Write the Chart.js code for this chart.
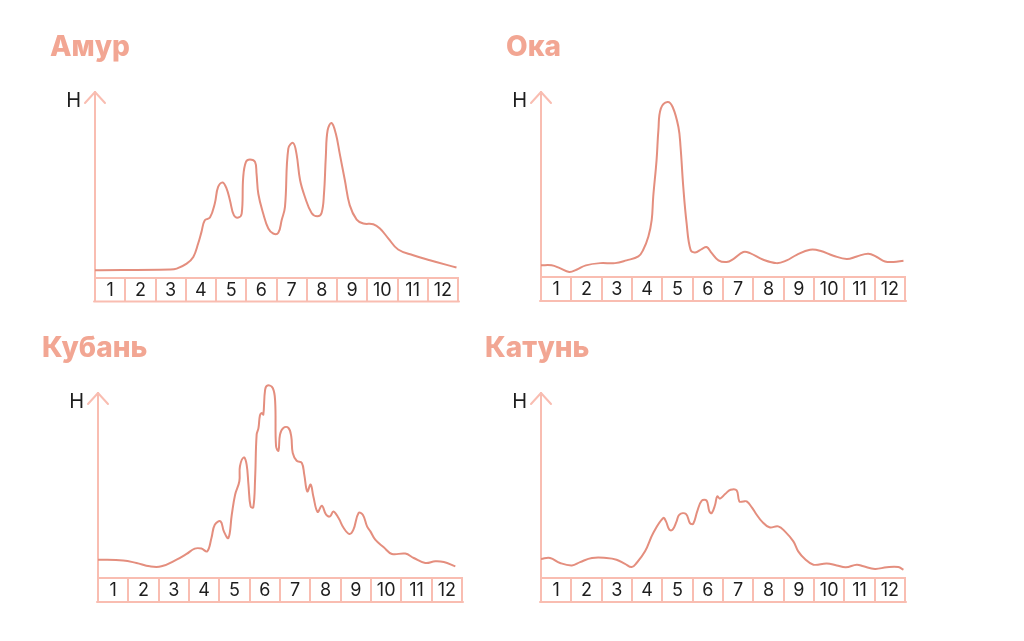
<!DOCTYPE html>
<html>
<head>
<meta charset="utf-8">
<script src="https://cdn.jsdelivr.net/npm/chart.js@4.4.0/dist/chart.umd.min.js"></script>
<style>
  html, body { margin: 0; padding: 0; background: #fff; }
  #wrap { position: relative; width: 1024px; height: 641px; }
  canvas { position: absolute; left: 0; top: 0; }
</style>
</head>
<body>
<div id="wrap">
  <canvas id="c0" width="1024" height="641"></canvas>
  <canvas id="c1" width="1024" height="641"></canvas>
  <canvas id="c2" width="1024" height="641"></canvas>
  <canvas id="c3" width="1024" height="641"></canvas>
</div>
<script>
  // месяцы под графиками
  const months = ['1', '2', '3', '4', '5', '6', '7', '8', '9', '10', '11', '12'];

  // Амур
  const amurMonth = [0, 2.48, 2.7, 3.03, 3.25, 3.41, 3.52, 3.63, 3.8, 3.96, 4.07, 4.22, 4.35, 4.46, 4.59,
    4.74, 4.85, 4.9, 4.99, 5.12, 5.29, 5.34, 5.4, 5.56, 5.73, 5.89, 6.06, 6.17, 6.28, 6.39, 6.55, 6.66,
    6.78, 6.94, 7.16, 7.35, 7.49, 7.57, 7.63, 7.69, 7.82, 7.96, 8.09, 8.26, 8.42, 8.65, 8.87, 9.2, 9.42,
    9.7, 10.02, 10.52, 11.07, 11.95];
  const amurLevel = [3.9, 4.3, 4.8, 7.5, 11.1, 18.3, 24.6, 30.9, 32.3, 39.9, 48.8, 51.2, 47.9, 41.7, 33.6,
    32.3, 34.5, 54.2, 62.3, 63.6, 62.3, 56, 45, 34.5, 26.4, 23.7, 24.1, 30.9, 38.1, 69.5, 72.5, 66.8,
    52.4, 43.4, 34.8, 33, 34.8, 45.2, 65, 79.4, 83.3, 77.6, 66.8, 52.4, 39, 31.2, 29.1, 28.7, 26.4,
    21, 15.1, 12, 9.3, 5.4];

  // Ока
  const okaMonth = [0, 0.35, 0.62, 0.93, 1.17, 1.48, 1.95, 2.44, 2.82, 3.21, 3.37, 3.54, 3.65, 3.7, 3.81,
    3.87, 3.95, 4.17, 4.34, 4.53, 4.6, 4.69, 4.8, 4.93, 5.08, 5.3, 5.46, 5.63, 5.85, 6.12, 6.34, 6.67,
    6.89, 7.33, 7.77, 8.1, 8.43, 8.87, 9.2, 9.64, 10.08, 10.41, 10.79, 11.07, 11.34, 11.62, 11.95];
  const okaLevel = [6.3, 6.3, 4.8, 2.7, 3.9, 6.3, 7.5, 7.5, 9, 11.1, 14.7, 21.9, 30.9, 43.4, 63.2,
    79.4, 91, 94.6, 91.9, 81.1, 70.4, 48.8, 29.1, 14.7, 13.3, 15.1, 16.2, 12.9, 9, 8.1, 9.7, 13.5,
    12.9, 9.3, 7.5, 9, 12, 14.7, 14.2, 11.5, 9.7, 11.1, 12.6, 10.8, 8.4, 8.1, 8.8];

  // Кубань
  const kubanMonth = [0, 0.83, 1.27, 1.71, 2.09, 2.59, 2.92, 3.19, 3.41, 3.6, 3.74, 3.85, 4.04, 4.15, 4.3,
    4.41, 4.52, 4.66, 4.68, 4.81, 4.9, 4.96, 5.03, 5.12, 5.18, 5.23, 5.29, 5.34, 5.4, 5.45, 5.51, 5.59,
    5.76, 5.84, 5.87, 5.95, 6.0, 6.11, 6.28, 6.37, 6.42, 6.55, 6.72, 6.8, 6.9, 7.01, 7.1, 7.24, 7.38,
    7.52, 7.65, 7.76, 7.93, 8.1, 8.29, 8.42, 8.59, 8.73, 8.87, 8.98, 9.14, 9.42, 9.69, 10.13, 10.41,
    10.79, 11.12, 11.4, 11.78];
  const kubanLevel = [9.9, 9.5, 8.1, 6.3, 6.3, 9.9, 13, 15.9, 15.9, 14.4, 21.6, 28.8, 30.6, 25.2, 21.6,
    34.2, 45, 52.3, 60.4, 65.2, 61.3, 50.5, 38.7, 38.2, 54.1, 77.5, 81, 88, 89.2, 88.3, 101.8, 104.1,
    102.7, 95.5, 71.2, 68.8, 77.5, 81.1, 81.1, 76.6, 67.6, 63.4, 62.2, 55.9, 46.8, 50.5, 44.1, 35.7, 39.1,
    34.2, 33.3, 36, 32.4, 27, 23.8, 26.1, 35.1, 34.2, 27.9, 25.2, 20.7, 16.6, 13, 13.2, 10.8,
    8.1, 9, 8.6, 6.3];

  // Катунь
  const katunMonth = [0, 0.3, 0.63, 1.02, 1.29, 1.68, 2.16, 2.49, 2.77, 2.99, 3.15, 3.43, 3.7, 4.03, 4.12,
    4.23, 4.34, 4.47, 4.56, 4.78, 4.91, 5.02, 5.15, 5.3, 5.46, 5.55, 5.63, 5.74, 5.81, 5.9, 6.07, 6.25,
    6.45, 6.54, 6.67, 6.78, 6.95, 7.11, 7.28, 7.53, 7.82, 8.04, 8.32, 8.48, 8.7, 8.98, 9.42, 9.75,
    10.05, 10.41, 10.63, 11.01, 11.4, 11.78, 11.95];
  const katunLevel = [10.3, 10.8, 8.1, 6.8, 8.6, 10.8, 10.8, 9.9, 7.6, 5.9, 8.1, 14.4, 24.3, 32.4, 30.6,
    26.1, 26.1, 30.6, 34.2, 34.6, 29.7, 29.4, 36, 41.8, 41.8, 36, 35.1, 39.6, 44.1, 42.9, 45.4, 47.7,
    47.4, 41.4, 41.4, 41.4, 38.2, 34.2, 30.6, 27.4, 27.9, 25.2, 19.8, 14.4, 10.3, 7.2, 7.9, 6.8,
    5.8, 7.2, 6.3, 4.9, 5.8, 5.9, 4.5];

  const lineColor = '#e48e7e';
  const axisColor = '#f9bdb1';
  const titleColor = '#f2a693';
  const textColor = '#1e1e1e';
  const boxHeight = 24;

  // стрелка оси, подпись Н, нижняя линия клеток и название реки
  const decor = {
    id: 'decor',
    afterDraw(chart, args, opts) {
      const { ctx, chartArea } = chart;
      const m = chart.scales.m;
      ctx.save();
      ctx.strokeStyle = axisColor;
      ctx.lineWidth = 2;
      ctx.lineCap = 'round';
      ctx.lineJoin = 'round';

      const yb = m.top + boxHeight;
      ctx.beginPath();
      ctx.moveTo(m.left - 1, yb);
      ctx.lineTo(m.right + 1, yb);
      ctx.stroke();

      const x = chartArea.left, y = chartArea.top;
      ctx.beginPath();
      ctx.moveTo(x - 10, y + 11);
      ctx.lineTo(x, y);
      ctx.lineTo(x + 10, y + 11);
      ctx.stroke();

      ctx.fillStyle = textColor;
      ctx.font = '20px Inter';
      ctx.textAlign = 'right';
      ctx.textBaseline = 'middle';
      ctx.fillText('Н', x - 14, y + 9);

      ctx.fillStyle = titleColor;
      ctx.font = '800 28px Inter';
      ctx.textAlign = 'left';
      ctx.textBaseline = 'alphabetic';
      ctx.fillText(opts.title, opts.tx, opts.ty);
      ctx.restore();
    }
  };

  function riverChart(id, title, xs, ys, pad, tx, ty) {
    const ctx = document.getElementById(id).getContext('2d');
    return new Chart(ctx, {
      type: 'line',
      data: {
        labels: months,
        datasets: [{
          data: xs.map((v, i) => ({ x: v, y: ys[i] })),
          borderColor: lineColor,
          borderWidth: 2,
          pointRadius: 0,
          tension: 0.4,
          fill: false,
          clip: false
        }]
      },
      options: {
        responsive: false,
        animation: false,
        layout: { padding: pad },
        plugins: {
          legend: { display: false },
          tooltip: { enabled: false },
          decor: { title: title, tx: tx, ty: ty }
        },
        scales: {
          x: { type: 'linear', min: 0, max: 12, display: false },
          m: {
            type: 'category',
            position: 'bottom',
            labels: months,
            offset: true,
            grid: { offset: true, drawOnChartArea: false, tickLength: boxHeight, color: axisColor, lineWidth: 2 },
            border: { color: axisColor, width: 2 },
            ticks: {
              padding: -22,
              autoSkip: false,
              maxRotation: 0,
              color: textColor,
              font: { family: 'Inter', size: 18 }
            },
            afterFit: s => { s.height = boxHeight; }
          },
          y: {
            min: 0,
            max: 100,
            grid: { display: false },
            ticks: { display: false },
            border: { color: axisColor, width: 2 },
            afterFit: s => { s.width = 0; }
          }
        }
      },
      plugins: [decor]
    });
  }

  riverChart('c0', 'Амур', amurMonth, amurLevel, { left: 95, top: 92, right: 566, bottom: 339.5 }, 50, 56);
  riverChart('c1', 'Ока', okaMonth, okaLevel, { left: 541, top: 92, right: 119, bottom: 340 }, 506, 56);
  riverChart('c2', 'Кубань', kubanMonth, kubanLevel, { left: 98, top: 393, right: 562, bottom: 39 }, 42, 357);
  riverChart('c3', 'Катунь', katunMonth, katunLevel, { left: 541, top: 393, right: 119, bottom: 39 }, 485, 357);
</script>
</body>
</html>
